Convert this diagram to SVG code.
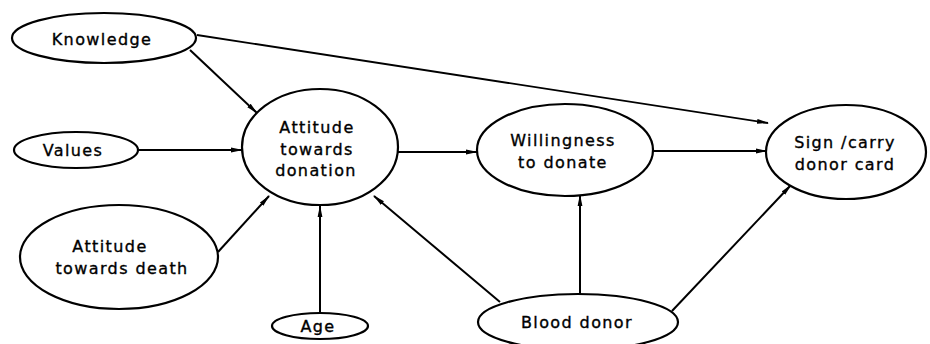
<svg xmlns="http://www.w3.org/2000/svg" width="930" height="344" viewBox="0 0 930 344">
<style>
.n ellipse{fill:#fff;stroke:#000;stroke-width:2.2}
.n text{font-family:"DejaVu Sans","Liberation Sans",sans-serif;font-size:16px;letter-spacing:1.4px;text-anchor:middle;fill:#000;stroke:#000;stroke-width:0.35}
#edges line{stroke:#000;stroke-width:2;marker-end:url(#ah)}
#edges line.k{stroke-width:1.8}
</style>
<defs>
<marker id="ah" markerWidth="12" markerHeight="6" refX="11" refY="3" orient="auto" markerUnits="userSpaceOnUse">
<path d="M0,0.6 L12,3 L0,5.4 Z" fill="#000"/>
</marker>
</defs>
<rect width="930" height="344" fill="#fff"/>
<g id="edges">
<line x1="190" y1="50" x2="257" y2="113"/>
<line class="k" x1="197" y1="35" x2="768" y2="123"/>
<line x1="137" y1="150" x2="242" y2="150"/>
<line x1="218" y1="252" x2="269" y2="196"/>
<line x1="320" y1="313" x2="320" y2="206"/>
<line x1="500" y1="302" x2="374" y2="196"/>
<line x1="398" y1="152" x2="477" y2="152"/>
<line x1="580" y1="295" x2="580" y2="195"/>
<line x1="652" y1="151" x2="767" y2="151"/>
<line x1="672" y1="311" x2="791" y2="185"/>
</g>
<g id="knowledge" class="n"><ellipse cx="104" cy="38" rx="92" ry="25"/><text x="102" y="45">Knowledge</text></g>
<g id="values" class="n"><ellipse cx="76" cy="150" rx="62" ry="18"/><text x="73" y="156">Values</text></g>
<g id="death" class="n"><ellipse cx="119" cy="257" rx="99" ry="52"/><text x="110" y="252">Attitude</text><text x="122" y="274">towards death</text></g>
<g id="age" class="n"><ellipse cx="320" cy="326" rx="48" ry="13"/><text x="318" y="332">Age</text></g>
<g id="attdon" class="n"><ellipse cx="320" cy="147" rx="78" ry="58"/><text x="317" y="133">Attitude</text><text x="317" y="155">towards</text><text x="316" y="176">donation</text></g>
<g id="willing" class="n"><ellipse cx="565" cy="150" rx="88" ry="46"/><text x="563" y="146">Willingness</text><text x="563" y="168">to donate</text></g>
<g id="sign" class="n"><ellipse cx="846" cy="152" rx="80" ry="47"/><text x="845" y="148">Sign /carry</text><text x="845" y="170">donor card</text></g>
<g id="blood" class="n"><ellipse cx="578" cy="322" rx="100" ry="28"/><text x="577" y="328">Blood donor</text></g>
</svg>
